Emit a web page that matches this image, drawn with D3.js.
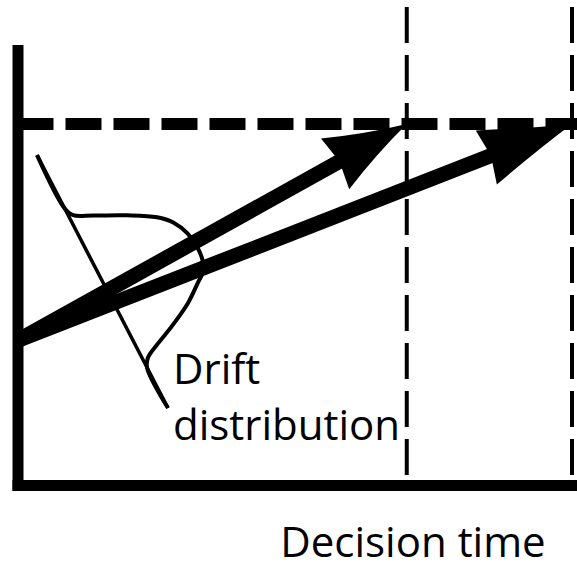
<!DOCTYPE html>
<html>
<head>
<meta charset="utf-8">
<script src="https://cdn.jsdelivr.net/npm/d3@7"></script>
<style>
  body { margin: 0; background: #fff; }
  svg { display: block; }
  text { font-family: "Open Sans", sans-serif; fill: #000; }
</style>
</head>
<body>
<div id="wrapper"></div>
<script>
// evidence accumulation: both trajectories leave the same start point
const startEvidence = 0.4
const threshold = 1
const decisionTimes = [0.702, 1]

// drift distribution, sampled along its own axis (0 = top end, 1 = bottom end)
const driftPositions = [0, 0.21, 0.246, 0.279, 0.333, 0.388, 0.43, 0.487, 0.547, 0.596, 0.628, 0.659, 0.706, 0.754, 0.783, 0.811, 0.84, 1]
const driftDensity   = [0, 0, 0.045, 0.22, 0.52, 0.78, 0.9, 0.976, 1, 0.986, 0.95, 0.836, 0.656, 0.394, 0.206, 0.053, 0, 0]

const distributionLabel = ["Drift", "distribution"]
const xAxisLabel = "Decision time"

function drawChart() {

  // 1. chart dimensions
  const dimensions = {
    width: 577,
    height: 570,
    margin: { top: 50, right: 5, bottom: 85, left: 17.5 },
  }
  dimensions.boundedWidth = dimensions.width - dimensions.margin.left - dimensions.margin.right
  dimensions.boundedHeight = dimensions.height - dimensions.margin.top - dimensions.margin.bottom

  // 2. canvas
  const wrapper = d3.select("#wrapper")
    .append("svg")
      .attr("width", dimensions.width)
      .attr("height", dimensions.height)

  const bounds = wrapper.append("g")
    .attr("transform", `translate(${dimensions.margin.left},${dimensions.margin.top})`)

  // 3. scales
  const xScale = d3.scaleLinear()
    .domain([0, 1])
    .range([0, dimensions.boundedWidth])

  const yScale = d3.scaleLinear()
    .domain([0, 1.205])
    .range([dimensions.boundedHeight, 0])

  // 4. threshold + decision time guides
  bounds.append("line")
    .attr("x1", 0)
    .attr("x2", dimensions.boundedWidth + 10)
    .attr("y1", yScale(threshold))
    .attr("y2", yScale(threshold))
    .attr("stroke", "#000")
    .attr("stroke-width", 12)
    .attr("stroke-dasharray", "36,12")

  bounds.selectAll("line.decision")
    .data(decisionTimes)
    .enter()
    .append("line")
      .attr("class", "decision")
      .attr("x1", d => xScale(d))
      .attr("x2", d => xScale(d))
      .attr("y1", 7 - dimensions.margin.top)
      .attr("y2", yScale(0) - 10)
      .attr("stroke", "#000")
      .attr("stroke-width", 4)
      .attr("stroke-dasharray", "36,12")

  // 5. drift distribution
  const p0 = [xScale(0.0352), yScale(0.914)]
  const p1 = [xScale(0.2714), yScale(0.2133)]
  const axisLen = Math.hypot(p1[0] - p0[0], p1[1] - p0[1])
  const u = [(p1[0] - p0[0]) / axisLen, (p1[1] - p0[1]) / axisLen]
  const n = [u[1], -u[0]]

  const posScale = d3.scaleLinear().domain([0, 1]).range([0, axisLen])
  const densScale = d3.scaleLinear().domain([0, 1]).range([0, 100])

  const driftPoints = driftPositions.map((s, i) => {
    const a = posScale(s), h = densScale(driftDensity[i])
    return [p0[0] + u[0] * a + n[0] * h, p0[1] + u[1] * a + n[1] * h]
  })

  bounds.append("line")
    .attr("x1", p0[0]).attr("y1", p0[1])
    .attr("x2", p1[0]).attr("y2", p1[1])
    .attr("stroke", "#000")
    .attr("stroke-width", 3.5)

  bounds.append("path")
    .attr("d", d3.line().curve(d3.curveCatmullRom.alpha(0.5))(driftPoints))
    .attr("fill", "none")
    .attr("stroke", "#000")
    .attr("stroke-width", 4)

  // 6. trajectories (arrows)
  const arrows = bounds.selectAll("g.arrow")
    .data(decisionTimes)
    .enter()
    .append("g")
      .attr("class", "arrow")

  const origin = [xScale(0), yScale(startEvidence)]
  const headLens = [82, 92]

  arrows.each(function(t, i) {
    const headLen = headLens[i]
    const tip = [xScale(t), yScale(threshold)]
    const angle = Math.atan2(tip[1] - origin[1], tip[0] - origin[0])
    const len = Math.hypot(tip[0] - origin[0], tip[1] - origin[1])
    const g = d3.select(this)
      .attr("transform", `translate(${origin[0]},${origin[1]}) rotate(${angle * 180 / Math.PI})`)

    g.append("line")
      .attr("x1", 0)
      .attr("x2", len - headLen + 10)
      .attr("stroke", "#000")
      .attr("stroke-width", 15)

    g.append("path")
      .attr("transform", `translate(${len},0)`)
      .attr("d", `M0,0 Q-40,-11 ${-headLen},-29 L${-headLen + 5},0 L${-headLen},29 Q-40,11 0,0 Z`)
      .attr("fill", "#000")
  })

  // 7. axes (plain thick lines, no ticks)
  const yAxis = bounds.append("g")
    .call(d3.axisLeft(yScale).tickValues([]).tickSizeOuter(0))
  const xAxis = bounds.append("g")
    .attr("transform", `translate(0,${dimensions.boundedHeight})`)
    .call(d3.axisBottom(xScale).tickValues([]).tickSizeOuter(0))

  bounds.selectAll(".domain")
    .attr("stroke", "#000")
    .attr("stroke-width", 11)
    .attr("stroke-linecap", "square")

  // 8. labels
  bounds.append("text")
    .attr("x", 155.5)
    .attr("y", 334)
    .style("font-size", "42px")
    .selectAll("tspan")
    .data(distributionLabel)
    .enter()
    .append("tspan")
      .attr("x", 155.5)
      .attr("dy", (d, i) => i ? 56 : 0)
      .text(d => d)

  bounds.append("text")
    .attr("x", 395.5)
    .attr("y", dimensions.boundedHeight + 72)
    .attr("text-anchor", "middle")
    .style("font-size", "42px")
    .text(xAxisLabel)
}

drawChart()
</script>
</body>
</html>
